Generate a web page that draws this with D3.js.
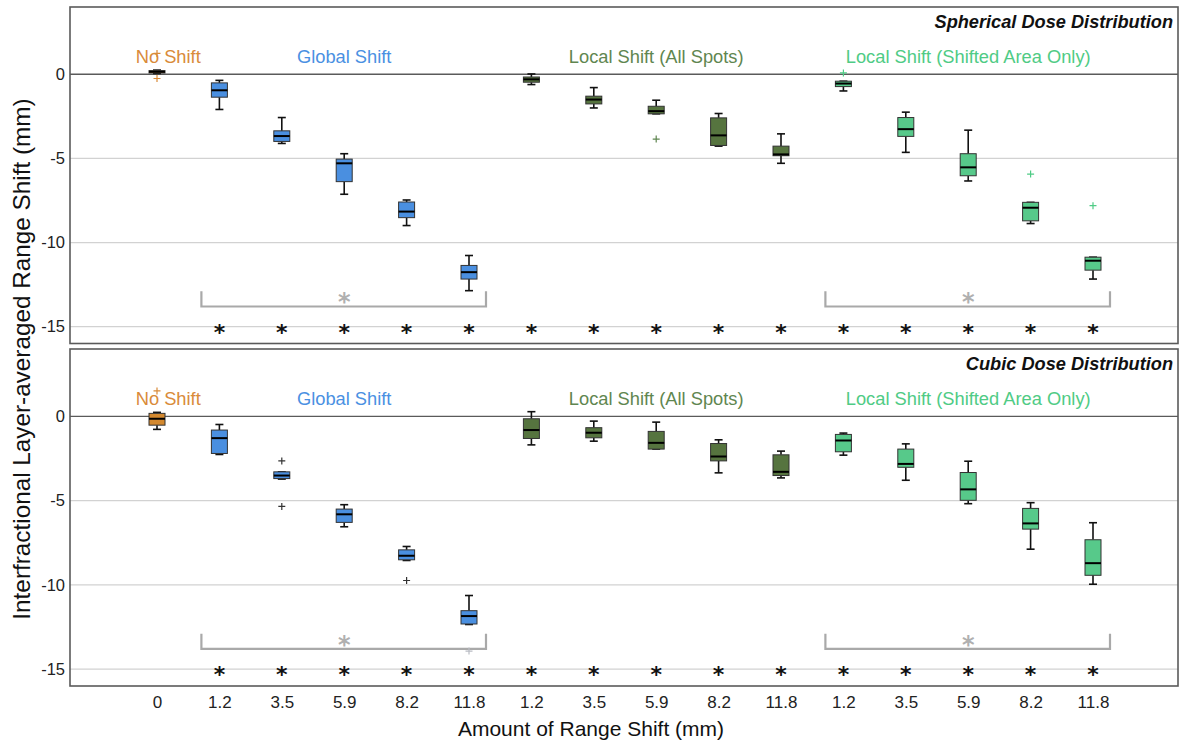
<!DOCTYPE html>
<html>
<head>
<meta charset="utf-8">
<script src="https://cdn.jsdelivr.net/npm/d3@7"></script>
<style>
  html, body { margin: 0; padding: 0; background: #fff; }
  svg { display: block; font-family: "Liberation Sans", Arial, sans-serif; }
</style>
</head>
<body>
<svg id="chart" width="1179" height="744"></svg>
<script>
// ---------------- data ----------------
const xTickLabels = ["0","1.2","3.5","5.9","8.2","11.8","1.2","3.5","5.9","8.2","11.8","1.2","3.5","5.9","8.2","11.8"];
// group of each category: 0 No Shift, 1 Global, 2 Local (All Spots), 3 Local (Shifted Area Only)
const categoryGroup = [0,1,1,1,1,1,2,2,2,2,2,3,3,3,3,3];
const groupNames = ["No Shift","Global Shift","Local Shift (All Spots)","Local Shift (Shifted Area Only)"];
const groupLabelIndex = [0.18, 3, 8, 13];
const groupBoxColors = ["#d4892f","#4a8fe0","#56743f","#57c98a"];
const groupTextColors = ["#d98b3a","#4a90e2","#5f8650","#4fcb85"];

const panelTitles = ["Spherical Dose Distribution","Cubic Dose Distribution"];
const yTickValues = [0,-5,-10,-15];
const yTickLabels = ["0","-5","-10","-15"];

// five-number summaries [low whisker, q1, median, q3, high whisker]
const sphericalBoxes = [
  [0.05, 0.08, 0.15, 0.22, 0.25],
  [-2.09, -1.36, -0.95, -0.51, -0.36],
  [-4.11, -3.99, -3.67, -3.36, -2.57],
  [-7.13, -6.38, -5.29, -5.04, -4.72],
  [-8.99, -8.52, -8.16, -7.59, -7.47],
  [-12.86, -12.17, -11.76, -11.36, -10.77],
  [-0.61, -0.47, -0.30, -0.16, 0.02],
  [-2.00, -1.76, -1.50, -1.30, -0.79],
  [-2.35, -2.35, -2.19, -1.90, -1.54],
  [-4.27, -4.23, -3.63, -2.59, -2.33],
  [-5.29, -4.84, -4.76, -4.27, -3.54],
  [-0.99, -0.73, -0.55, -0.41, -0.41],
  [-4.64, -3.69, -3.26, -2.57, -2.25],
  [-6.34, -6.03, -5.53, -4.72, -3.32],
  [-8.87, -8.71, -7.93, -7.61, -7.61],
  [-12.17, -11.64, -11.08, -10.87, -10.87]
];
// outliers: [category index, value]
const sphericalOutliers = [[0, 1.24], [0, -0.25], [8, -3.85], [11, 0.08], [14, -5.93], [15, -7.81]];

const cubicBoxes = [
  [-0.77, -0.52, -0.14, 0.18, 0.24],
  [-2.26, -2.20, -1.29, -0.81, -0.48],
  [-3.72, -3.69, -3.51, -3.29, -3.29],
  [-6.55, -6.29, -5.81, -5.50, -5.24],
  [-8.55, -8.51, -8.27, -7.92, -7.72],
  [-12.35, -12.32, -11.85, -11.53, -10.63],
  [-1.69, -1.31, -0.81, -0.14, 0.28],
  [-1.47, -1.27, -0.97, -0.67, -0.28],
  [-1.94, -1.94, -1.57, -0.89, -0.34],
  [-3.35, -2.64, -2.38, -1.61, -1.39],
  [-3.65, -3.51, -3.29, -2.28, -2.06],
  [-2.30, -2.10, -1.43, -1.07, -0.99],
  [-3.79, -3.02, -2.82, -1.94, -1.63],
  [-5.18, -4.98, -4.33, -3.33, -2.66],
  [-7.88, -6.69, -6.35, -5.46, -5.12],
  [-9.96, -9.43, -8.71, -7.32, -6.31]
];
const cubicOutliers = [[0, 1.51], [2, -2.64], [2, -5.34], [4, -9.74], [5, -13.93]];

// significance markers
const starCategories = [1,2,3,4,5,6,7,8,9,10,11,12,13,14,15];
const starValue = -15;
const brackets = [[1, 5], [11, 15]];
const bracketLevel = -13.8;
const bracketTop = -12.9;

// ---------------- layout ----------------
const svg = d3.select("#chart");
const plotLeft = 70, plotRight = 1178;
const panels = [
  { boxes: sphericalBoxes, outliers: sphericalOutliers, title: panelTitles[0], top: 7, bottom: 343.5 },
  { boxes: cubicBoxes, outliers: cubicOutliers, title: panelTitles[1], top: 349, bottom: 686 }
];

const x = d3.scalePoint().domain(d3.range(xTickLabels.length)).range([157, 1093]);
const xIdx = d3.scaleLinear().domain([0, xTickLabels.length - 1]).range([157, 1093]);
const boxW = 16, capW = 8;
const starFont = "'DejaVu Sans', sans-serif";

panels.forEach((p, pi) => {
  const y = d3.scaleLinear().domain([-16, 4]).range([p.bottom, p.top]);
  const g = svg.append("g");

  // grid lines
  g.selectAll("line.grid").data(yTickValues.filter(v => v !== 0)).join("line")
    .attr("x1", plotLeft).attr("x2", plotRight)
    .attr("y1", d => y(d)).attr("y2", d => y(d))
    .attr("stroke", "#d2d2d2").attr("stroke-width", 1.3);
  g.append("line")
    .attr("x1", plotLeft).attr("x2", plotRight)
    .attr("y1", y(0)).attr("y2", y(0))
    .attr("stroke", "#5a5a5a").attr("stroke-width", 1.4);

  // y axis
  const ax = g.append("g").attr("transform", `translate(${plotLeft},0)`)
    .call(d3.axisLeft(y).tickValues(yTickValues).tickSize(0).tickPadding(5)
      .tickFormat((d, i) => yTickLabels[i]));
  ax.select(".domain").remove();
  ax.selectAll("text").attr("font-size", 16.5).attr("fill", "#222")
    .attr("font-family", "'Liberation Sans', Arial, sans-serif");

  // group labels
  g.selectAll("text.glabel").data(groupNames).join("text")
    .attr("x", (d, i) => xIdx(groupLabelIndex[i]))
    .attr("y", y(0) - 11)
    .attr("text-anchor", "middle")
    .attr("font-size", 18.3)
    .attr("fill", (d, i) => groupTextColors[i])
    .text(d => d);

  // panel title
  g.append("text")
    .attr("x", 1173).attr("y", p.top + 20.5)
    .attr("text-anchor", "end")
    .attr("font-size", 18.2).attr("font-weight", "bold").attr("font-style", "italic")
    .attr("fill", "#111")
    .text(p.title);

  // brackets
  brackets.forEach(([a, b]) => {
    const x1 = x(a) - 18, x2 = x(b) + 17;
    g.append("path")
      .attr("d", `M${x1},${y(bracketTop)} L${x1},${y(bracketLevel)} L${x2},${y(bracketLevel)} L${x2},${y(bracketTop)}`)
      .attr("fill", "none").attr("stroke", "#a9a9a9").attr("stroke-width", 2.2);
    g.append("text")
      .attr("x", (x(a) + x(b)) / 2).attr("y", y(bracketTop) + 19)
      .attr("text-anchor", "middle").attr("font-size", 24).attr("font-weight", "bold")
      .attr("fill", "#b0b0b0")
      .attr("font-family", starFont)
      .text("*");
  });

  // black stars
  g.selectAll("text.star").data(starCategories).join("text")
    .attr("x", d => x(d)).attr("y", y(starValue) + 13)
    .attr("text-anchor", "middle").attr("font-size", 22).attr("font-weight", "bold")
    .attr("fill", "#111")
    .attr("font-family", starFont)
    .text("*");

  // boxes
  const bx = g.selectAll("g.box").data(p.boxes).join("g")
    .attr("transform", (d, i) => `translate(${x(i)},0)`);
  bx.append("line").attr("x1", 0).attr("x2", 0)
    .attr("y1", d => y(d[4])).attr("y2", d => y(d[3]))
    .attr("stroke", "#111").attr("stroke-width", 1.6);
  bx.append("line").attr("x1", 0).attr("x2", 0)
    .attr("y1", d => y(d[1])).attr("y2", d => y(d[0]))
    .attr("stroke", "#111").attr("stroke-width", 1.6);
  bx.append("line").attr("x1", -capW / 2).attr("x2", capW / 2)
    .attr("y1", d => y(d[4])).attr("y2", d => y(d[4]))
    .attr("stroke", "#111").attr("stroke-width", 1.6);
  bx.append("line").attr("x1", -capW / 2).attr("x2", capW / 2)
    .attr("y1", d => y(d[0])).attr("y2", d => y(d[0]))
    .attr("stroke", "#111").attr("stroke-width", 1.6);
  bx.append("rect")
    .attr("x", -boxW / 2).attr("width", boxW)
    .attr("y", d => y(d[3]))
    .attr("height", d => Math.max(1.5, y(d[1]) - y(d[3])))
    .attr("fill", (d, i) => groupBoxColors[categoryGroup[i]])
    .attr("stroke", "#333").attr("stroke-width", 1);
  bx.append("line").attr("x1", -boxW / 2).attr("x2", boxW / 2)
    .attr("y1", d => y(d[2])).attr("y2", d => y(d[2]))
    .attr("stroke", "#000").attr("stroke-width", 2);

  // outliers (+)
  g.selectAll("path.out").data(p.outliers).join("path")
    .attr("d", d => {
      const cx = x(d[0]), cy = y(d[1]), s = 3.5;
      return `M${cx - s},${cy} L${cx + s},${cy} M${cx},${cy - s} L${cx},${cy + s}`;
    })
    .attr("stroke", d => {
      const grp = categoryGroup[d[0]];
      if (pi === 1 && grp === 1) return d[1] < -13 ? "#b9bcc4" : "#333";
      return groupTextColors[grp];
    })
    .attr("stroke-width", 1.2);

  // frame
  g.append("rect")
    .attr("x", plotLeft).attr("y", p.top)
    .attr("width", plotRight - plotLeft).attr("height", p.bottom - p.top)
    .attr("fill", "none").attr("stroke", "#5a5a5a").attr("stroke-width", 1.6);
});

// x axis tick labels
const xAxis = svg.append("g").attr("transform", `translate(0,${panels[1].bottom})`)
  .call(d3.axisBottom(x).tickSize(0).tickPadding(10).tickFormat(i => xTickLabels[i]));
xAxis.select(".domain").remove();
xAxis.selectAll("text").attr("font-size", 17).attr("fill", "#222")
  .attr("font-family", "'Liberation Sans', Arial, sans-serif");

// axis titles
svg.append("text")
  .attr("x", 591).attr("y", 736)
  .attr("text-anchor", "middle").attr("font-size", 21).attr("fill", "#111")
  .text("Amount of Range Shift (mm)");
svg.append("text")
  .attr("transform", "translate(30,359) rotate(-90)")
  .attr("text-anchor", "middle").attr("font-size", 24.3).attr("fill", "#111")
  .text("Interfractional Layer-averaged Range Shift (mm)");
</script>
</body>
</html>
